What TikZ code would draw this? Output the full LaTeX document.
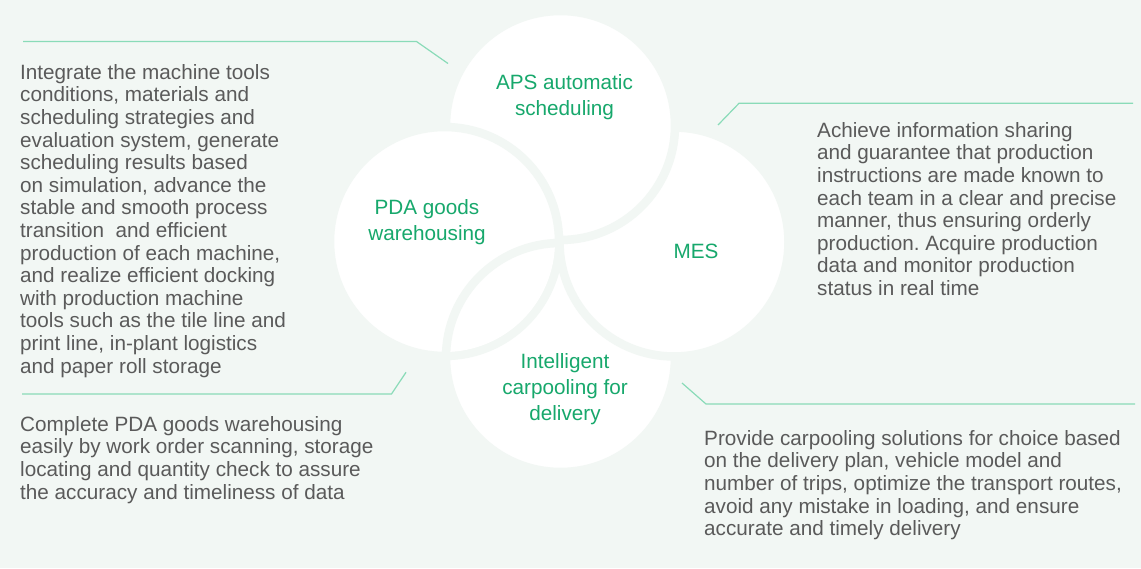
\documentclass[tikz,border=0pt]{standalone}
\usepackage{fontspec}
\setmainfont{Liberation Sans}
\frenchspacing
\definecolor{bgc}{HTML}{F2F7F4}
\definecolor{tagc}{HTML}{17A86C}
\definecolor{leadc}{HTML}{8ADBB8}
\definecolor{bodyc}{HTML}{5A5A5A}

\begin{document}
\begin{tikzpicture}[x=1pt, y=-1pt,
    circ/.style={circle, minimum size=229pt, inner sep=0pt, fill=white, draw=bgc, line width=8.5pt},
    tag/.style={align=center, inner sep=0pt, anchor=north, text=tagc, font=\fontsize{20.7}{26}\selectfont},
    body/.style={align=left, inner sep=0pt, anchor=north west, text=bodyc, font=\fontsize{20.7}{22.6}\selectfont},
    lead/.style={draw=leadc, line width=1.2pt}]
      \fill[bgc] (0,0) rectangle (1141,568);
      \node[circ] (car) at (560.5,357.5) {};
      \node[circ] (mes) at (674,242) {};
      \node[circ] (aps) at (560.5,125.5) {};
      \node[circ] (pda) at (444.5,241.5) {};
      \begin{scope}
        \clip (pda.center) circle[radius=110.5];
        \path[fill=white, draw=bgc, line width=8.5pt] (car.center) circle[radius=114.5];
      \end{scope}
      \node[tag] (apsname) at (564.5,74) {APS automatic\\scheduling};
      \node[tag] (pdaname) at (427,199) {PDA goods\\warehousing};
      \node[tag] (mesname) at (696,244) {MES};
      \node[tag] (carname) at (565,353) {Intelligent\\carpooling for\\delivery};
      \node[body] (apstext) at (20,64) {Integrate the machine tools\\conditions, materials and\\scheduling strategies and\\evaluation system, generate\\scheduling results based\\on simulation, advance the\\stable and smooth process\\transition\ \ and efficient\\production of each machine,\\and realize efficient docking\\with production machine\\tools such as the tile line and\\print line, in-plant logistics\\and paper roll storage};
      \node[body] (pdatext) at (20,416) {Complete PDA goods warehousing\\easily by work order scanning, storage\\locating and quantity check to assure\\the accuracy and timeliness of data};
      \node[body] (mestext) at (817,122) {Achieve information sharing\\and guarantee that production\\instructions are made known to\\each team in a clear and precise\\manner, thus ensuring orderly\\production. Acquire production\\data and monitor production\\status in real time};
      \node[body] (cartext) at (704,430) {Provide carpooling solutions for choice based\\on the delivery plan, vehicle model and\\number of trips, optimize the transport routes,\\avoid any mistake in loading, and ensure\\accurate and timely delivery};
      \coordinate (apsa) at (23,41.5);
      \coordinate (apsb) at (416.5,41.5);
      \coordinate (apsc) at (448,63.5);
      \coordinate (mesa) at (718,125);
      \coordinate (mesb) at (739,103.3);
      \coordinate (mesc) at (1133,103.3);
      \coordinate (pdaa) at (22,394);
      \coordinate (pdab) at (391.5,394);
      \coordinate (pdac) at (406,372.3);
      \coordinate (cara) at (682,383);
      \coordinate (carb) at (706,404);
      \coordinate (carc) at (1135,404);
      \draw[lead] (apsa) -- (apsb) -- (apsc);
      \draw[lead] (mesa) -- (mesb) -- (mesc);
      \draw[lead] (pdaa) -- (pdab) -- (pdac);
      \draw[lead] (cara) -- (carb) -- (carc);
\end{tikzpicture}
\end{document}
